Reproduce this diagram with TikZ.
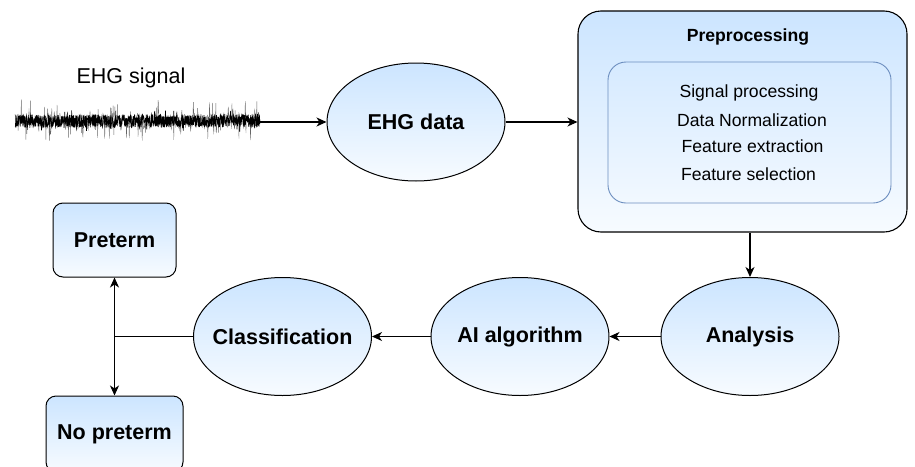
\documentclass[tikz,border=0pt]{standalone}
\usepackage{fontspec}
\setmainfont{Liberation Sans}
\usetikzlibrary{arrows.meta,shapes.geometric}
\definecolor{fillTop}{HTML}{CCE5FF}
\definecolor{fillBot}{HTML}{F7FBFF}
\definecolor{innerEdge}{HTML}{6C8EBF}
\tikzset{
  stage/.style={ellipse, draw=black, line width=1pt, top color=fillTop, bottom color=fillBot,
    minimum width=178pt, minimum height=118pt, inner xsep=-15pt, inner ysep=0pt,
    font=\fontsize{21.5}{24}\selectfont\bfseries},
  outcome/.style={rectangle, rounded corners=10pt, draw=black, line width=1pt,
    top color=fillTop, bottom color=fillBot, inner sep=0pt,
    font=\fontsize{21.5}{24}\selectfont\bfseries},
  prebox/.style={rectangle, rounded corners=23pt, draw=black, line width=1.1pt,
    top color=fillTop, bottom color=fillBot, inner sep=0pt},
  innerbox/.style={rectangle, rounded corners=18pt, draw=innerEdge, line width=0.9pt, inner sep=0pt},
  steptext/.style={font=\fontsize{17.6}{20}\selectfont, inner sep=0pt},
  arr/.style={line width=1.1pt, -{Stealth[length=10pt, width=9pt, inset=3pt]}},
  link/.style={line width=1.1pt}
}
\begin{document}
\begin{tikzpicture}[x=1pt, y=-1pt]
\useasboundingbox (0,0) rectangle (915,466);

% raw EHG trace: occasional grey spikes over a dense black band
\node[font=\fontsize{21.5}{24}\selectfont, inner sep=0pt] (siglabel) at (131,78) {EHG signal};
\pgfmathsetseed{17}
\draw[line width=0.35pt, black!60] plot[domain=15:260, samples=700]
  (\x, {121 + 7*rand + (abs(rand)>0.8 ? 17*rand : 0)});
\draw[line width=0.6pt] plot[domain=15:260, samples=1100]
  (\x, {121 + 6.5*rand + (abs(rand)>0.9 ? 6*rand : 0)});
\coordinate (sigend) at (260,122);

% processing chain
\node[stage] (ehg) at (416,122) {EHG data};

\node[prebox, minimum width=329pt, minimum height=221pt] (pre) at (742.5,121.5) {};
\node[innerbox, minimum width=283pt, minimum height=141pt] (inner) at (749.5,132.5) {};
\node[steptext, font=\fontsize{17.6}{20}\selectfont\bfseries] (pretitle) at (748,37) {Preprocessing};
\node[steptext] (s1) at (749,93) {Signal processing};
\node[steptext] (s2) at (752,120) {Data Normalization};
\node[steptext] (s3) at (752.5,146) {Feature extraction};
\node[steptext] (s4) at (748.5,174) {Feature selection};

\node[stage] (ana) at (750,336.5) {Analysis};
\node[stage] (ai) at (520,336.5) {AI algorithm};
\node[stage] (cls) at (282.5,336.5) {Classification};

\node[outcome, minimum width=123pt, minimum height=74pt] (pt) at (114.5,240) {Preterm};
\node[outcome, minimum width=137pt, minimum height=76pt] (npt) at (114.5,434) {No preterm};

\coordinate (split) at (114.5,336.5);

% connectors
\draw[arr] (sigend) -- (ehg.west);
\draw[arr] (ehg.east) -- (ehg.east -| pre.west);
\draw[arr] (ana.north |- pre.south) -- (ana.north);
\draw[arr] (ana.west) -- (ai.east);
\draw[arr] (ai.west) -- (cls.east);
\draw[link] (cls.west) -- (split);
\draw[arr] (split) -- (pt.south);
\draw[arr] (split) -- (npt.north);
\end{tikzpicture}
\end{document}
